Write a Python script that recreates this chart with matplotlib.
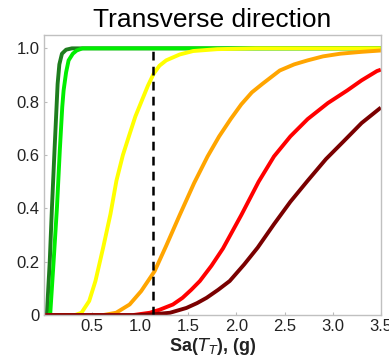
import matplotlib
matplotlib.use('Agg')
import matplotlib.pyplot as plt
import numpy as np

plt.rcParams['font.family'] = ['Liberation Sans', 'DejaVu Sans']

# curves (x = Sa in g, y = probability)
dkgreen_x = [0.0, 0.025, 0.031, 0.06, 0.083, 0.11, 0.142, 0.16, 0.187, 0.23, 0.29, 3.5]
dkgreen_y = [0.0, 0.0, 0.009, 0.2, 0.403, 0.62, 0.867, 0.94, 0.98, 0.995, 1.0, 1.0]

ltgreen_x = [0.0, 0.055, 0.066, 0.1, 0.135, 0.165, 0.19, 0.204, 0.23, 0.256, 0.3, 0.34, 0.4, 3.5]
ltgreen_y = [0.0, 0.0, 0.009, 0.2, 0.403, 0.62, 0.78, 0.842, 0.91, 0.955, 0.98, 0.992, 1.0, 1.0]

yellow_x = [0.0, 0.32, 0.39, 0.47, 0.535, 0.615, 0.691, 0.753, 0.82, 0.891, 0.95, 1.012,
            1.08, 1.14, 1.2, 1.27, 1.41, 1.55, 1.8, 2.2, 3.5]
yellow_y = [0.0, 0.0, 0.009, 0.053, 0.128, 0.253, 0.379, 0.504, 0.6, 0.68, 0.745, 0.80,
            0.86, 0.905, 0.935, 0.955, 0.977, 0.99, 0.997, 1.0, 1.0]

orange_x = [0.0, 0.61, 0.75, 0.89, 1.01, 1.15, 1.27, 1.41, 1.56, 1.7, 1.82, 1.94, 2.05,
            2.16, 2.27, 2.45, 2.6, 2.74, 2.9, 3.08, 3.3, 3.5]
orange_y = [0.0, 0.0, 0.009, 0.04, 0.09, 0.165, 0.26, 0.375, 0.495, 0.595, 0.67, 0.735, 0.79,
            0.835, 0.867, 0.917, 0.94, 0.955, 0.97, 0.98, 0.987, 0.992]

red_x = [0.0, 0.92, 1.1, 1.2, 1.34, 1.44, 1.53, 1.62, 1.74, 1.86, 2.05, 2.23, 2.39, 2.56,
         2.74, 2.95, 3.15, 3.3, 3.46, 3.5]
red_y = [0.0, 0.0, 0.009, 0.02, 0.04, 0.065, 0.095, 0.128, 0.185, 0.25, 0.375, 0.5, 0.595,
         0.67, 0.735, 0.795, 0.842, 0.88, 0.915, 0.92]

dkred_x = [0.0, 0.95, 1.13, 1.31, 1.48, 1.59, 1.69, 1.81, 1.93, 2.08, 2.22, 2.39, 2.56,
           2.74, 2.93, 3.12, 3.3, 3.5]
dkred_y = [0.0, 0.0, 0.003, 0.009, 0.027, 0.045, 0.065, 0.095, 0.128, 0.19, 0.253, 0.341,
           0.425, 0.504, 0.585, 0.654, 0.72, 0.778]

sa_design = 1.13

fig = plt.figure(figsize=(3.89, 3.61), dpi=100)
ax = fig.add_axes([0.113, 0.127, 0.866, 0.776])

lw = 2.8
curves = [(dkgreen_x, dkgreen_y, '#1e7d1e'),
          (ltgreen_x, ltgreen_y, '#00ee00'),
          (yellow_x, yellow_y, '#ffff00'),
          (orange_x, orange_y, '#ffa500'),
          (red_x, red_y, '#ff0000'),
          (dkred_x, dkred_y, '#7a0000')]
for xs, ys, c in curves:
    ax.plot(xs, ys, color=c, lw=lw, solid_joinstyle='round', solid_capstyle='butt')
ax.plot([sa_design, sa_design], [0, 1.0], color='black', lw=1.8, ls=(0, (3.5, 2.5)))

ax.set_xlim(0, 3.5)
ax.set_ylim(0, 1.05)
ax.set_xticks([0.5, 1.0, 1.5, 2.0, 2.5, 3.0, 3.5])
ax.set_xticklabels(['0.5', '1.0', '1.5', '2.0', '2.5', '3.0', '3.5'])
ax.set_yticks([0, 0.2, 0.4, 0.6, 0.8, 1.0])
ax.set_yticklabels(['0', '0.2', '0.4', '0.6', '0.8', '1.0'])
ax.tick_params(labelsize=12, length=2, color='#bbbbbb', direction='in', pad=3, labelcolor='#222222')
for s in ax.spines.values():
    s.set_color('#c0c0c0')
    s.set_linewidth(1.0)

ax.set_title('Transverse direction', fontsize=19, pad=6)
ax.set_xlabel(r'Sa($T_T$), (g)', fontsize=13, fontweight='bold', labelpad=1, color='#222222')

fig.savefig('out.png', dpi=100)
